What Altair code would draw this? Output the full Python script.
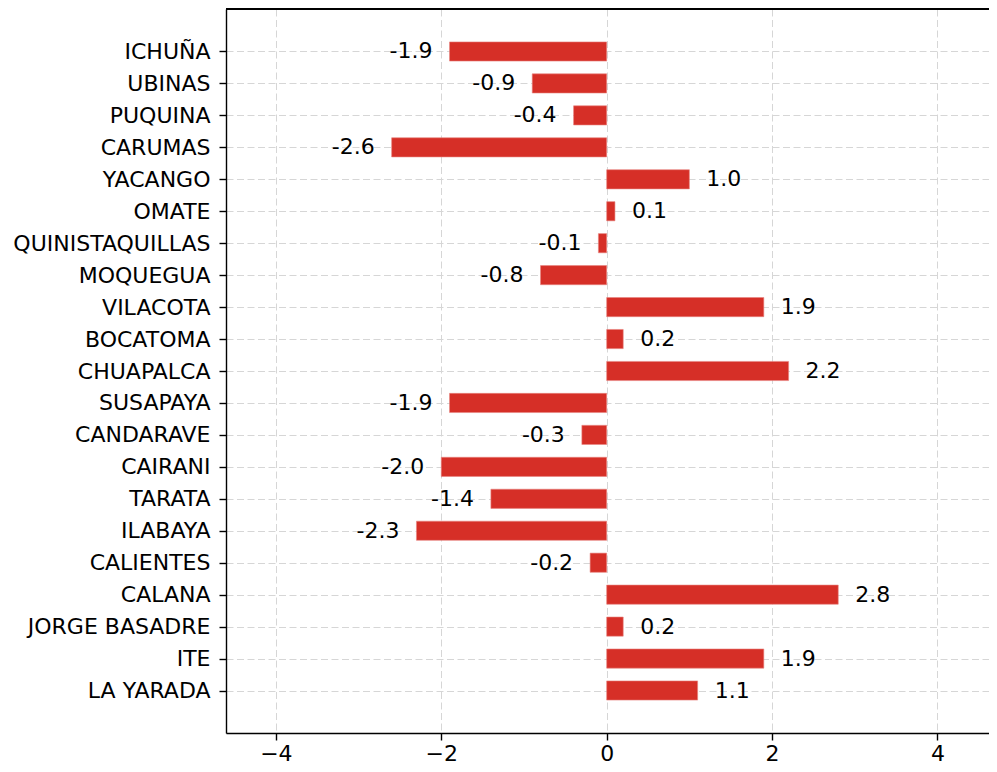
import altair as alt
import pandas as pd
import json

stations = ["ICHUÑA", "UBINAS", "PUQUINA", "CARUMAS", "YACANGO", "OMATE",
            "QUINISTAQUILLAS", "MOQUEGUA", "VILACOTA", "BOCATOMA", "CHUAPALCA",
            "SUSAPAYA", "CANDARAVE", "CAIRANI", "TARATA", "ILABAYA", "CALIENTES",
            "CALANA", "JORGE BASADRE", "ITE", "LA YARADA"]
values = [-1.9, -0.9, -0.4, -2.6, 1.0, 0.1, -0.1, -0.8, 1.9, 0.2, 2.2,
          -1.9, -0.3, -2.0, -1.4, -2.3, -0.2, 2.8, 0.2, 1.9, 1.1]
x_ticks = [-4, -2, 0, 2, 4]

n = len(stations)
df = pd.DataFrame({"station": stations, "value": values})
df["pos"] = [n - 1 - i for i in range(n)]
df["lo"] = df["pos"] - 0.3
df["hi"] = df["pos"] + 0.3
df["zero"] = 0.0
df["label"] = df["value"].map(lambda v: f"{v:.1f}")

names_bottom_up = json.dumps(list(reversed(stations)), ensure_ascii=False)

FONT = "DejaVu Sans"
FS = 22
W, H = 763, 724

axis_common = dict(grid=True, gridDash=[7, 3.5], gridColor="#d6d6d6", gridWidth=1,
                   domainColor="#000000", domainWidth=1.4, tickColor="#000000",
                   tickSize=7, tickWidth=1.4, labelFontSize=FS, labelFont=FONT,
                   labelColor="#000000", title=None, labelOverlap=False,
                   labelBound=False, labelFlush=False, labelLimit=0)

xscale = alt.Scale(domain=[-4.603, 4.623], nice=False, zero=False)
yscale = alt.Scale(domain=[-1.33, n - 1 + 1.33], nice=False, zero=False)

x_axis = alt.Axis(values=x_ticks,
                  labelExpr="replace(format(datum.value, 'd'), '-', '\u2212')",
                  labelPadding=3, **axis_common)
y_axis = alt.Axis(values=list(range(n)),
                  labelExpr=names_bottom_up + "[datum.value]",
                  labelPadding=9, **axis_common)

bars = alt.Chart(df).mark_bar(color="#d62f27", stroke="#e8857f", strokeWidth=0.6).encode(
    x=alt.X("value:Q", scale=xscale, axis=x_axis), x2="zero:Q",
    y=alt.Y("lo:Q", scale=yscale, axis=y_axis), y2="hi:Q")

pos = alt.Chart(df).transform_filter("datum.value >= 0").mark_text(
    align="left", baseline="middle", dx=17, font=FONT, fontSize=FS, color="#000000"
).encode(x=alt.X("value:Q", scale=xscale, axis=x_axis),
         y=alt.Y("pos:Q", scale=yscale, axis=y_axis), text="label:N")
neg = alt.Chart(df).transform_filter("datum.value < 0").mark_text(
    align="right", baseline="middle", dx=-17, font=FONT, fontSize=FS, color="#000000"
).encode(x=alt.X("value:Q", scale=xscale, axis=x_axis),
         y=alt.Y("pos:Q", scale=yscale, axis=y_axis), text="label:N")

top_border = alt.Chart(df).mark_rule(color="#000000", strokeWidth=1.4).encode(
    x=alt.value(0), x2=alt.value(W), y=alt.value(0))

chart = alt.layer(bars, pos, neg, top_border).properties(
    width=W, height=H,
    autosize=alt.AutoSizeParams(type="none"),
    padding={"left": 218, "top": 1, "right": 0, "bottom": 31},
).configure_view(stroke=None).configure(background="white")

chart.save("out.html", embed_options={"renderer": "svg", "actions": False})
